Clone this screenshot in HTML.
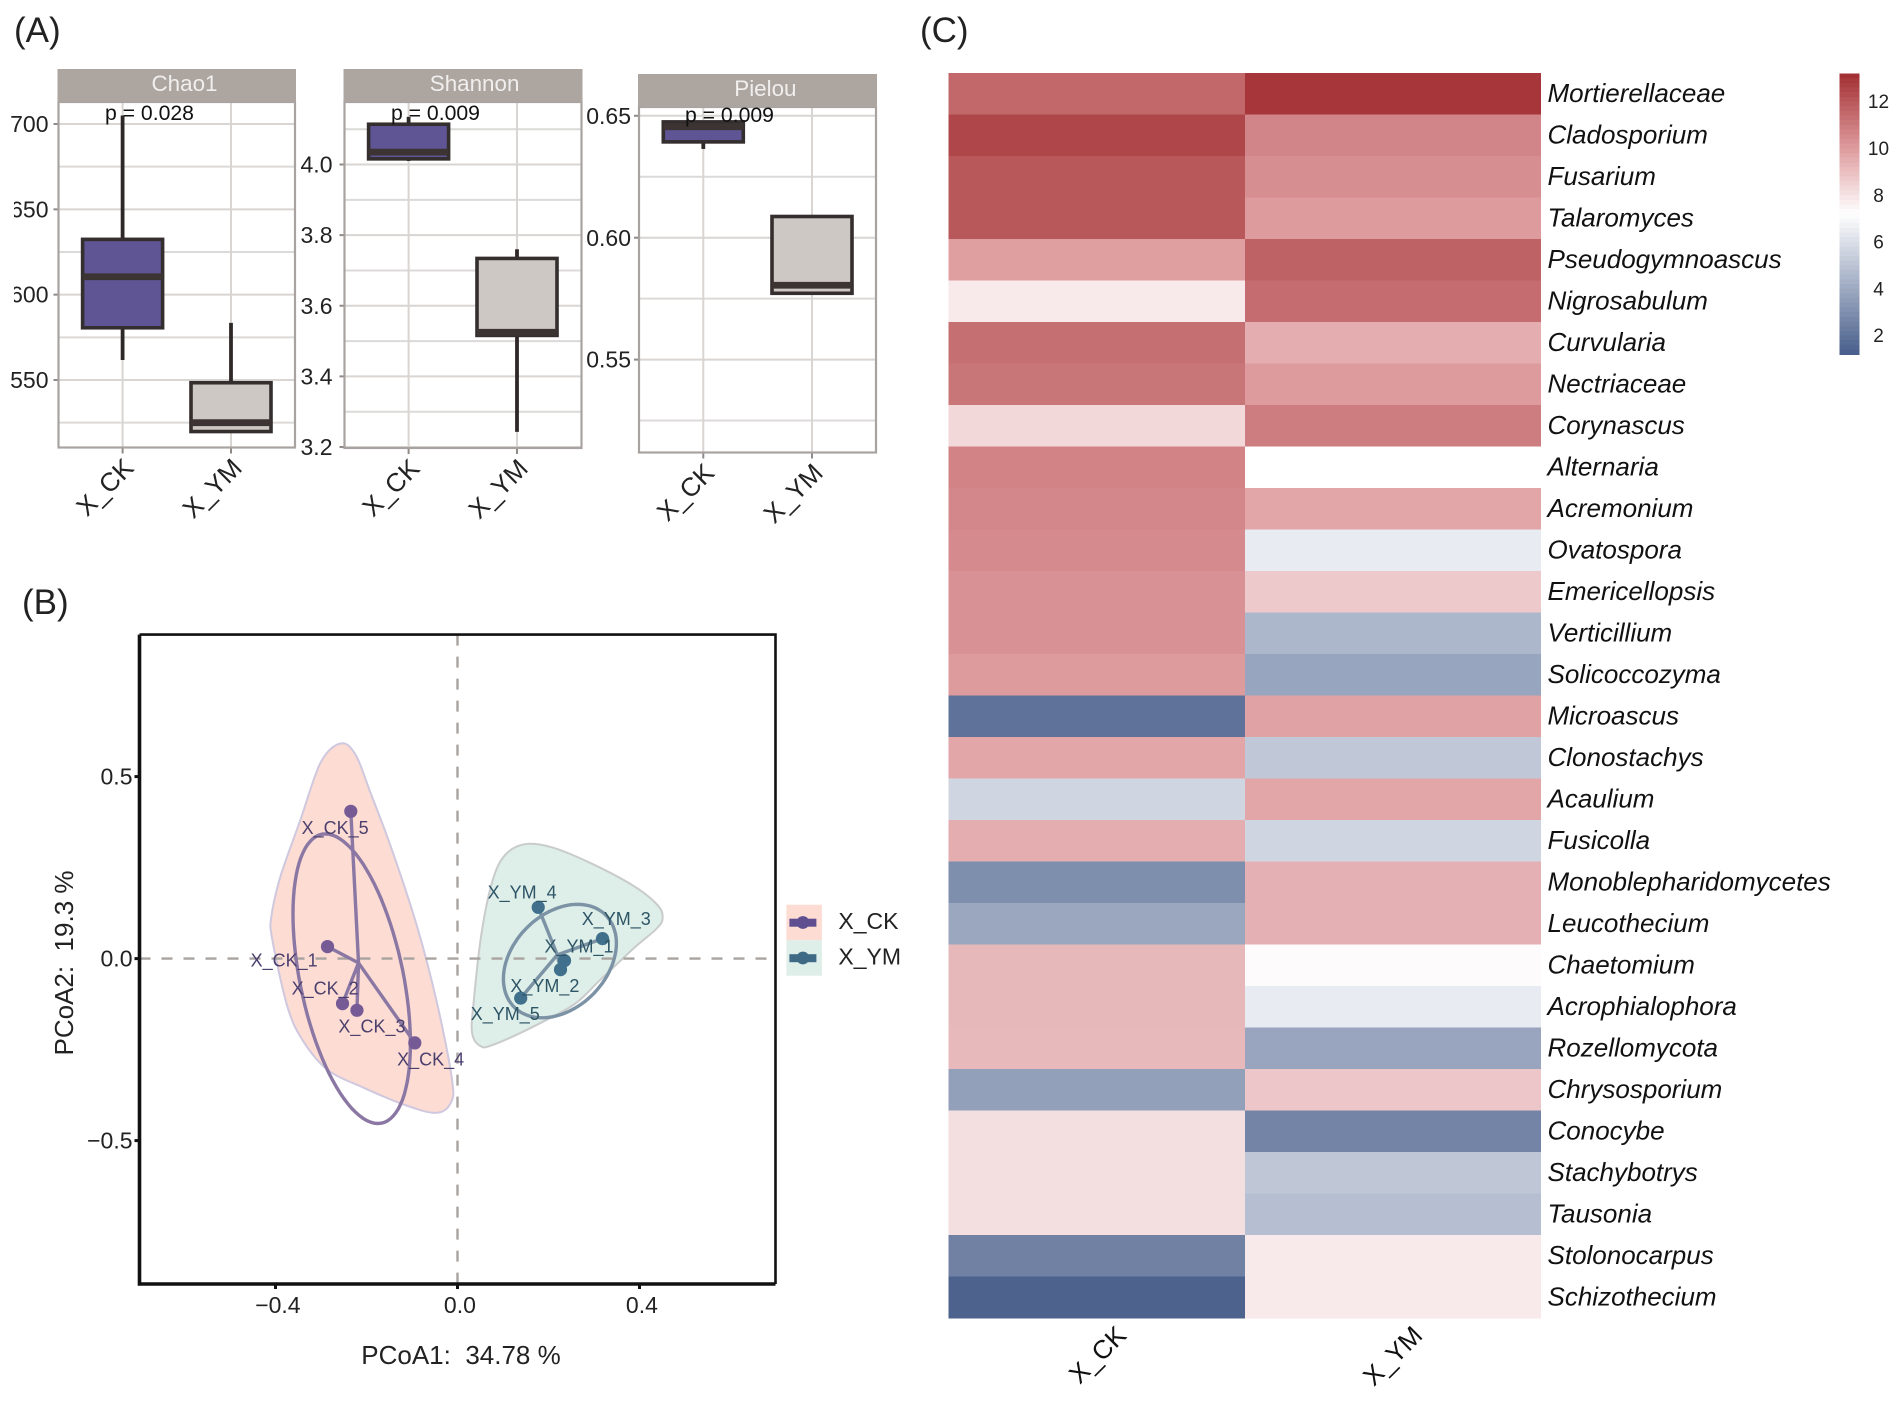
<!DOCTYPE html>
<html lang="en">
<head>
<meta charset="utf-8">
<title>Diversity, PCoA and heatmap figure</title>
<style>
html,body{margin:0;padding:0;background:#fff;}
svg{display:block;font-family:"Liberation Sans",Arial,sans-serif;}
</style>
</head>
<body>
<svg id="figure" xmlns="http://www.w3.org/2000/svg" width="1902" height="1403" viewBox="0 0 1902 1403">
<rect x="0" y="0" width="1902" height="1403" fill="#fff"/>
<text x="14" y="42" font-size="35" fill="#222">(A)</text>
<text x="22" y="614" font-size="35" fill="#222">(B)</text>
<text x="920" y="42" font-size="35" fill="#222">(C)</text>
</svg>
<script>
// ---------- Panel A data ----------
const boxGroups = ['X_CK', 'X_YM'];
// each box: [low whisker, q1, median, q3, high whisker]
const chao1Stats = [[561.7, 580.6, 610.5, 632.4, 705], [519.8, 519.8, 525, 548.4, 583.5]];
const shannonStats = [[4.01, 4.016, 4.035, 4.114, 4.135], [3.243, 3.516, 3.525, 3.734, 3.76]];
const pielouStats = [[0.6364, 0.6393, 0.6455, 0.6475, 0.6475], [0.5772, 0.5772, 0.5805, 0.6087, 0.6093]];
const chao1Ticks = [700, 650, 600, 550];
const chao1Minor = [675, 625, 575, 525];
const shannonTicks = [4.0, 3.8, 3.6, 3.4, 3.2];
const shannonMinor = [4.1, 3.9, 3.7, 3.5, 3.3];
const pielouTicks = [0.65, 0.60, 0.55];
const pielouMinor = [0.625, 0.575, 0.525];

// ---------- Panel B data (PCoA coordinates) ----------
const ckSampleLabels = ['X_CK_1', 'X_CK_2', 'X_CK_3', 'X_CK_4', 'X_CK_5'];
const ckPco1 = [-0.2857, -0.2527, -0.221, -0.0938, -0.2345];
const ckPco2 = [0.033, -0.1236, -0.142, -0.2316, 0.4047];
const ckLabelPco1 = [-0.381, -0.291, -0.188, -0.059, -0.269];
const ckLabelPco2 = [-0.005, -0.081, -0.186, -0.277, 0.36];
const ymSampleLabels = ['X_YM_1', 'X_YM_2', 'X_YM_3', 'X_YM_4', 'X_YM_5'];
const ymPco1 = [0.2352, 0.2264, 0.3187, 0.1774, 0.1389];
const ymPco2 = [-0.0055, -0.0302, 0.0549, 0.1409, -0.1086];
const ymLabelPco1 = [0.267, 0.192, 0.349, 0.142, 0.105];
const ymLabelPco2 = [0.034, -0.074, 0.11, 0.183, -0.151];
const ckHullPco1 = [-0.257, -0.224, -0.191, -0.147, -0.089, -0.045, -0.012, -0.015, -0.048, -0.118, -0.206, -0.286, -0.341, -0.374, -0.407, -0.409, -0.389, -0.345, -0.301];
const ckHullPco2 = [0.591, 0.56, 0.455, 0.309, 0.089, -0.122, -0.332, -0.397, -0.424, -0.401, -0.355, -0.305, -0.223, -0.131, 0.052, 0.116, 0.226, 0.382, 0.538];
const ymHullPco1 = [0.153, 0.212, 0.3, 0.388, 0.439, 0.451, 0.439, 0.388, 0.314, 0.256, 0.168, 0.08, 0.051, 0.032, 0.036, 0.054, 0.08, 0.109];
const ymHullPco2 = [0.315, 0.304, 0.258, 0.199, 0.148, 0.114, 0.084, 0.029, -0.058, -0.126, -0.186, -0.236, -0.241, -0.204, -0.113, 0.08, 0.226, 0.29];
const pcoXTicks = [-0.4, 0.0, 0.4];
const pcoYTicks = [0.5, 0.0, -0.5];

// ---------- Panel C data ----------
const heatColumns = ['X_CK', 'X_YM'];
const heatTaxa = ['Mortierellaceae', 'Cladosporium', 'Fusarium', 'Talaromyces', 'Pseudogymnoascus', 'Nigrosabulum', 'Curvularia', 'Nectriaceae', 'Corynascus', 'Alternaria', 'Acremonium', 'Ovatospora', 'Emericellopsis', 'Verticillium', 'Solicoccozyma', 'Microascus', 'Clonostachys', 'Acaulium', 'Fusicolla', 'Monoblepharidomycetes', 'Leucothecium', 'Chaetomium', 'Acrophialophora', 'Rozellomycota', 'Chrysosporium', 'Conocybe', 'Stachybotrys', 'Tausonia', 'Stolonocarpus', 'Schizothecium'];
const heatCk = [11.5, 12.5, 12.0, 12.0, 9.9, 7.8, 11.3, 11.1, 8.3, 10.7, 10.6, 10.5, 10.3, 10.3, 10.0, 1.95, 9.7, 5.66, 9.5, 2.97, 3.9, 9.2, 9.2, 9.15, 3.65, 8.1, 8.1, 8.1, 2.5, 1.37];
const heatYm = [13.0, 10.65, 10.4, 10.0, 11.7, 11.4, 9.5, 10.0, 10.9, 7.2, 9.7, 6.45, 8.7, 4.5, 3.83, 9.8, 5.13, 9.7, 5.66, 9.4, 9.4, 7.3, 6.45, 3.85, 8.8, 2.6, 5.1, 4.8, 7.8, 7.8];
const colorbarTicks = [12, 10, 8, 6, 4, 2];

const svg = document.getElementById('figure');
const NS = 'http://www.w3.org/2000/svg';
function make(tag, attrs, parent) {
  const n = document.createElementNS(NS, tag);
  for (const k in attrs) n.setAttribute(k, attrs[k]);
  (parent || svg).appendChild(n);
  return n;
}
function linear(d0, d1, r0, r1) {
  return function (v) { return r0 + (v - d0) * (r1 - r0) / (d1 - d0); };
}
function fmt(v, digits) { return v.toFixed(digits).replace('-', '\u2212'); }

// ---------- Panel A ----------
function boxPanel(cfg) {
  const slug = cfg.title.toLowerCase();
  const g = make('g', {});
  
  
  const y = linear(cfg.dom[0], cfg.dom[1], cfg.rng[0], cfg.rng[1]);
  const L = cfg.left, R = cfg.right, T = cfg.top, B = cfg.bottom;

  const plot = make('rect', { x: L, y: T, width: R - L, height: B - T, fill: '#fff' }, g);
  
  

  cfg.minor.forEach(function (v) {
    const el = make('line', { x1: L, x2: R, y1: y(v), y2: y(v), stroke: '#dcdad8', 'stroke-width': 2 }, g);
    
    
  });
  cfg.ticks.forEach(function (v) {
    const el = make('line', { x1: L, x2: R, y1: y(v), y2: y(v), stroke: '#d8d5d3', 'stroke-width': 2 }, g);
    
    
    const tick = make('line', { x1: L - 5, x2: L, y1: y(v), y2: y(v), stroke: '#8f8a87', 'stroke-width': 2 }, g);
    
    
    const lab = make('text', { x: L - cfg.labelGap, y: y(v), dy: '.35em', 'text-anchor': 'end', 'font-size': 23, fill: '#222' }, g);
    lab.textContent = v.toFixed(cfg.digits);
    
    
  });

  boxGroups.forEach(function (name, i) {
    const cx = cfg.centers[i];
    const gv = make('line', { x1: cx, x2: cx, y1: T, y2: B, stroke: '#d8d5d3', 'stroke-width': 2 }, g);
    
    
    const tick = make('line', { x1: cx, x2: cx, y1: B, y2: B + 6, stroke: '#8f8a87', 'stroke-width': 2 }, g);
    
    
    const lab = make('text', { x: cx + 12.5, y: B + 22, 'text-anchor': 'end', 'font-size': 26, fill: '#222', transform: 'rotate(-45 ' + (cx + 12.5) + ' ' + (B + 22) + ')' }, g);
    lab.textContent = name;
    
    
  });

  const frame = make('rect', { x: L, y: T, width: R - L, height: B - T, fill: 'none', stroke: '#a8a3a0', 'stroke-width': 2.2 }, g);
  
  

  boxGroups.forEach(function (name, i) {
    const s = cfg.stats[i], cx = cfg.centers[i], hw = 40;
    const whisker = make('line', { x1: cx, x2: cx, y1: y(s[0]), y2: y(s[4]), stroke: '#2f2828', 'stroke-width': 3.8 }, g);
    
    
    const box = make('rect', { x: cx - hw, y: y(s[3]), width: 2 * hw, height: y(s[1]) - y(s[3]), fill: i === 0 ? '#5f5595' : '#cec8c4', stroke: '#352e2e', 'stroke-width': 3.6 }, g);
    
    
    const med = make('line', { x1: cx - hw, x2: cx + hw, y1: y(s[2]), y2: y(s[2]), stroke: '#3b3432', 'stroke-width': 6.8 }, g);
    
    
  });

  const strip = make('rect', { x: L - 1, y: cfg.stripTop, width: R - L + 2, height: T - cfg.stripTop, fill: '#aca5a0' }, g);
  
  
  const title = make('text', { x: cfg.titleX, y: cfg.stripTop + 22, 'text-anchor': 'middle', 'font-size': 22.4, fill: '#f1efee' }, g);
  title.textContent = cfg.title;
  
  
  const p = make('text', { x: cfg.pX, y: cfg.pY, 'font-size': 21.2, fill: '#111' }, g);
  p.textContent = cfg.pText;
  
  
}

boxPanel({ title: 'Chao1', stats: chao1Stats, ticks: chao1Ticks, minor: chao1Minor, digits: 0, dom: [700, 550], rng: [124, 380], left: 58.5, right: 295, top: 102, bottom: 447.5, stripTop: 69, centers: [122.6, 231], titleX: 184.5, pX: 105, pY: 120, pText: 'p = 0.028', labelGap: 10 });
boxPanel({ title: 'Shannon', stats: shannonStats, ticks: shannonTicks, minor: shannonMinor, digits: 1, dom: [4, 3.2], rng: [164.5, 447], left: 344.5, right: 581.5, top: 102, bottom: 448, stripTop: 69, centers: [408.6, 517], titleX: 474.6, pX: 391, pY: 120, pText: 'p = 0.009', labelGap: 12 });
boxPanel({ title: 'Pielou', stats: pielouStats, ticks: pielouTicks, minor: pielouMinor, digits: 2, dom: [0.65, 0.55], rng: [115.8, 359.6], left: 639, right: 876, top: 107, bottom: 452.5, stripTop: 74, centers: [703.3, 812], titleX: 765.4, pX: 685, pY: 122, pText: 'p = 0.009', labelGap: 8 });

const clipMask = make('rect', { x: 0, y: 195, width: 14, height: 125, fill: '#fff' });



// ---------- Panel B ----------
const pcoX = linear(0, 0.4, 457.5, 639.5);
const pcoY = linear(0, 0.5, 958.6, 776.6);
const bL = 139.5, bR = 775.5, bT = 634.6, bB = 1284;

function closedSmooth(xs, ys) {
  const n = xs.length;
  const px = xs.map(pcoX), py = ys.map(pcoY);
  let d = 'M' + px[0].toFixed(1) + ' ' + py[0].toFixed(1);
  for (let i = 0; i < n; i++) {
    const a = (i - 1 + n) % n, b = (i + 1) % n, c = (i + 2) % n;
    d += 'C' + (px[i] + (px[b] - px[a]) / 6).toFixed(1) + ' ' + (py[i] + (py[b] - py[a]) / 6).toFixed(1) + ' ' +
      (px[b] - (px[c] - px[i]) / 6).toFixed(1) + ' ' + (py[b] - (py[c] - py[i]) / 6).toFixed(1) + ' ' +
      px[b].toFixed(1) + ' ' + py[b].toFixed(1);
  }
  return d + 'Z';
}
function mean(a) { return a.reduce(function (s, v) { return s + v; }, 0) / a.length; }
function ellipsePath(xs, ys, kx2, ky2, shiftX, shiftY) {
  const mx = mean(xs), my = mean(ys), n = xs.length;
  let sxx = 0, syy = 0, sxy = 0;
  xs.forEach(function (v, i) {
    sxx += (v - mx) * (v - mx);
    syy += (ys[i] - my) * (ys[i] - my);
    sxy += (v - mx) * (ys[i] - my);
  });
  sxx /= n - 1; syy /= n - 1; sxy /= n - 1;
  const kx = Math.sqrt(kx2), ky = Math.sqrt(ky2);
  const l11 = Math.sqrt(sxx), l21 = sxy / l11, l22 = Math.sqrt(Math.max(syy - l21 * l21, 1e-9));
  let d = '';
  for (let i = 0; i < 96; i++) {
    const t = i / 96 * 2 * Math.PI;
    const ex = mx + shiftX + kx * l11 * Math.cos(t);
    const ey = my + shiftY + ky * (l21 * Math.cos(t) + l22 * Math.sin(t));
    d += (i ? 'L' : 'M') + pcoX(ex).toFixed(1) + ' ' + pcoY(ey).toFixed(1);
  }
  return d + 'Z';
}

const bGroup = make('g', {});



const ckHull = make('path', { d: closedSmooth(ckHullPco1, ckHullPco2), fill: '#fcdcd3', stroke: '#cfc8de', 'stroke-width': 2 }, bGroup);


const ymHull = make('path', { d: closedSmooth(ymHullPco1, ymHullPco2), fill: '#deeee9', stroke: '#c9cbcc', 'stroke-width': 2 }, bGroup);



const zeroH = make('line', { x1: bL, x2: bR, y1: pcoY(0), y2: pcoY(0), stroke: '#a9a3a0', 'stroke-width': 2.4, 'stroke-dasharray': '11 11' }, bGroup);


const zeroV = make('line', { x1: pcoX(0), x2: pcoX(0), y1: bT, y2: bB, stroke: '#a9a3a0', 'stroke-width': 2.4, 'stroke-dasharray': '11 11' }, bGroup);



function pcoGroup(slug, xs, ys, labels, labX, labY, lineCol, ptCol, textCol, kx2, ky2, shiftX, shiftY) {
  const ell = make('path', { d: ellipsePath(xs, ys, kx2, ky2, shiftX, shiftY), fill: 'none', stroke: lineCol, 'stroke-width': 3.4 }, bGroup);
  
  
  const cx = mean(xs), cy = mean(ys);
  xs.forEach(function (v, i) {
    const seg = make('line', { x1: pcoX(cx), y1: pcoY(cy), x2: pcoX(v), y2: pcoY(ys[i]), stroke: lineCol, 'stroke-width': 3.4 }, bGroup);
    
    
  });
  xs.forEach(function (v, i) {
    const pt = make('circle', { cx: pcoX(v), cy: pcoY(ys[i]), r: 6.6, fill: ptCol }, bGroup);
    
    
  });
  labels.forEach(function (t, i) {
    const lab = make('text', { x: pcoX(labX[i]), y: pcoY(labY[i]), dy: '.35em', 'text-anchor': 'middle', 'font-size': 18, fill: textCol }, bGroup);
    lab.textContent = t;
    
    
  });
}
pcoGroup('x-ck', ckPco1, ckPco2, ckSampleLabels, ckLabelPco1, ckLabelPco2, '#8b77a3', '#755a96', '#4b3f6e', 3.1, 2.5, -0.015, -0.0433);
pcoGroup('x-ym', ymPco1, ymPco2, ymSampleLabels, ymLabelPco1, ymLabelPco2, '#7c93a5', '#40708c', '#2e5566', 3.35, 2.77, 0.0057, -0.017);

const bTop = make('path', { d: 'M' + bL + ' ' + bT + 'H' + bR + 'V' + bB, fill: 'none', stroke: '#111', 'stroke-width': 2.6 }, bGroup);


const bAxes = make('path', { d: 'M' + bL + ' ' + bT + 'V' + bB + 'H' + bR, fill: 'none', stroke: '#111', 'stroke-width': 3.6 }, bGroup);



pcoXTicks.forEach(function (v) {
  const tick = make('line', { x1: pcoX(v), x2: pcoX(v), y1: bB, y2: bB + 5, stroke: '#111', 'stroke-width': 3 }, bGroup);
  
  
  const lab = make('text', { x: pcoX(v) + 2.4, y: bB + 29, 'text-anchor': 'middle', 'font-size': 23, fill: '#222' }, bGroup);
  lab.textContent = fmt(v, 1);
  
  
});
pcoYTicks.forEach(function (v) {
  const tick = make('line', { x1: bL - 5, x2: bL, y1: pcoY(v), y2: pcoY(v), stroke: '#111', 'stroke-width': 3 }, bGroup);
  
  
  const lab = make('text', { x: bL - 7, y: pcoY(v), dy: '.35em', 'text-anchor': 'end', 'font-size': 23, fill: '#222' }, bGroup);
  lab.textContent = fmt(v, 1);
  
  
});
const xTitle = make('text', { x: 461, y: 1364, 'text-anchor': 'middle', 'font-size': 26, fill: '#222' }, bGroup);
xTitle.textContent = 'PCoA1:\u00a0\u00a034.78 %';


const yTitle = make('text', { x: 73, y: 963, 'text-anchor': 'middle', 'font-size': 26, fill: '#222', transform: 'rotate(-90 73 963)' }, bGroup);
yTitle.textContent = 'PCoA2:\u00a0\u00a019.3 %';



// Legend
const legendGroups = ['X_CK', 'X_YM'];
const legendFill = ['#fcdcd3', '#deeee9'];
const legendLine = ['#5f4f91', '#3f6a85'];
legendGroups.forEach(function (name, i) {
  const top = 904.7 + i * 35.5;
  const entry = make('g', {}, bGroup);
  
  
  const key = make('rect', { x: 786.4, y: top, width: 35.5, height: 35.5, fill: legendFill[i] }, entry);
  
  
  const bar = make('rect', { x: 789.4, y: top + 14, width: 27, height: 8, fill: legendLine[i] }, entry);
  
  
  const dot = make('circle', { cx: 802.9, cy: top + 17.8, r: 6.4, fill: legendLine[i] }, entry);
  
  
  const lab = make('text', { x: 838.4, y: top + 16, dy: '.35em', 'font-size': 23, fill: '#222' }, entry);
  lab.textContent = name;
  
  
});

// ---------- Panel C ----------
const heatLeft = 948.6, heatMid = 1245, heatRight = 1541, heatTop = 72.8, rowH = 41.5;
const heatColX = [heatLeft, heatMid], heatColW = [heatMid - heatLeft, heatRight - heatMid];
function mix(a, b, t) {
  return 'rgb(' + [0, 1, 2].map(function (i) { return Math.round(a[i] + (b[i] - a[i]) * t); }).join(',') + ')';
}
function heatColor(v) {
  const white = [255, 255, 255], low = [75, 97, 141], midRed = [222, 155, 158], high = [162, 47, 50];
  if (v >= 10) return mix(midRed, high, Math.min((v - 10) / 3.2, 1));
  if (v >= 7.2) return mix(white, midRed, (v - 7.2) / 2.8);
  return mix(white, low, Math.min((7.2 - v) / 5.9, 1));
}
const hGroup = make('g', { 'shape-rendering': 'crispEdges' });


[heatCk, heatYm].forEach(function (series, c) {
  series.forEach(function (v, r) {
    const cell = make('rect', { x: heatColX[c], y: heatTop + r * rowH, width: heatColW[c] + (c === 0 ? 0.5 : 0), height: rowH + 0.5, fill: heatColor(v) }, hGroup);
    
    
  });
});
heatTaxa.forEach(function (name, r) {
  const lab = make('text', { x: 1547.5, y: heatTop + (r + 0.5) * rowH, dy: '.33em', 'font-size': 26, 'font-style': 'italic', fill: '#111' });
  lab.textContent = name;
  
  
});
heatColumns.forEach(function (name, c) {
  const ax = heatColX[c] + heatColW[c] / 2 + 31, ay = 1337;
  const lab = make('text', { x: ax, y: ay, 'text-anchor': 'end', 'font-size': 26, fill: '#111', transform: 'rotate(-45 ' + ax + ' ' + ay + ')' });
  lab.textContent = name;
  
  
});

// Colour bar
const barY = linear(12, 2, 101.5, 335.5);
const barGroup = make('g', { 'shape-rendering': 'crispEdges' });


for (let v = 13.2; v > 1.3; v -= 0.2) {
  const seg = make('rect', { x: 1839.3, y: barY(v), width: 20, height: barY(v - 0.2) - barY(v) + 0.6, fill: heatColor(v - 0.1) }, barGroup);
  
  
}
colorbarTicks.forEach(function (v) {
  const lab = make('text', { x: 1878.5, y: barY(v), dy: '.35em', 'text-anchor': 'middle', 'font-size': 19, fill: '#222' });
  lab.textContent = String(v);
  
  
});
</script>
</body>
</html>
